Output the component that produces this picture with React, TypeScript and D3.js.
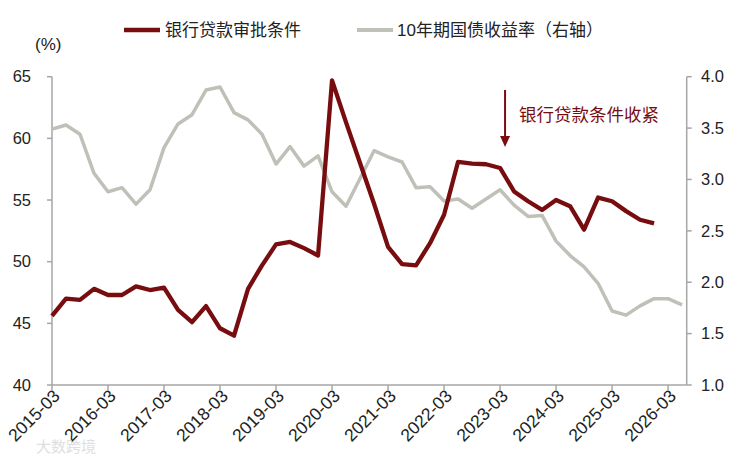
import React from "react";
import * as d3 from "d3";

const quarterLabels: string[] = [
  "2015-03","2016-03","2017-03","2018-03","2019-03","2020-03",
  "2021-03","2022-03","2023-03","2024-03","2025-03","2026-03",
];

// Quarterly values starting 2015-03
const lendingConditions: number[] = [
  45.6, 47.0, 46.9, 47.8, 47.3, 47.3, 48.0, 47.7, 47.9, 46.1,
  45.1, 46.4, 44.6, 44.0, 47.8, 49.7, 51.4, 51.6, 51.1, 50.5,
  64.7, 61.3, 58.0, 54.7, 51.2, 49.8, 49.7, 51.5, 53.8, 58.1,
  57.95, 57.9, 57.6, 55.7, 54.9, 54.2, 55.0, 54.5, 52.6, 55.2,
  54.9, 54.1, 53.4, 53.1,
];

const bondYield10y: number[] = [
  3.49, 3.53, 3.44, 3.06, 2.88, 2.92, 2.76, 2.90, 3.31, 3.54,
  3.63, 3.87, 3.90, 3.65, 3.58, 3.44, 3.15, 3.32, 3.13, 3.23,
  2.88, 2.74, 3.01, 3.28, 3.22, 3.17, 2.92, 2.93, 2.79, 2.81,
  2.72, 2.81, 2.90, 2.75, 2.64, 2.65, 2.40, 2.26, 2.15, 1.99,
  1.72, 1.68, 1.77, 1.84, 1.84, 1.78,
];

const leftTicks: number[] = [40, 45, 50, 55, 60, 65];
const rightTicks: number[] = [1.0, 1.5, 2.0, 2.5, 3.0, 3.5, 4.0];

const legendNames: string[] = ["银行贷款审批条件", "10年期国债收益率（右轴）"];
const annotationText = "银行贷款条件收紧";
const annotationIndex = 32; // 2023-03 quarter

const RED = "#780d10";
const GRAY = "#bfc0b7";
const AXIS = "#a6a6a6";
const FONT = "'Liberation Sans', Arial, 'Noto Sans CJK SC', sans-serif";

export default function App() {
  const W = 748, H = 462;
  const left = 52, right = 686.7, top = 76.7, bottom = 385;

  const x = d3.scaleLinear().domain([0, 45.33]).range([left, right]);
  const yL = d3.scaleLinear().domain([40, 65]).range([bottom, top]);
  const yR = d3.scaleLinear().domain([1, 4]).range([bottom, top]);

  const redLine = d3.line<number>().x((_, i) => x(i)).y((d) => yL(d));
  const grayLine = d3.line<number>().x((_, i) => x(i)).y((d) => yR(d));

  const ax = x(annotationIndex) + 5;

  return (
    <svg width={W} height={H} style={{ position: "absolute", left: 0, top: 0, background: "#fff" }} fontFamily={FONT}>
      {/* legend */}
      <line x1={124} x2={160} y1={30} y2={30} stroke={RED} strokeWidth={4.5} />
      <text x={165} y={30} dy="0.35em" fontSize={17} fill="#222">{legendNames[0]}</text>
      <line x1={357} x2={393} y1={30} y2={30} stroke={GRAY} strokeWidth={4} />
      <text x={397} y={30} dy="0.35em" fontSize={17} fill="#222">{legendNames[1]}</text>

      <text x={35} y={44} dy="0.35em" fontSize={17} fill="#222">(%)</text>

      {/* axes */}
      <line x1={left} x2={left} y1={top} y2={bottom} stroke={AXIS} strokeWidth={1.5} />
      <line x1={right} x2={right} y1={top} y2={bottom} stroke={AXIS} strokeWidth={1.5} />
      <line x1={left} x2={right} y1={bottom} y2={bottom} stroke={AXIS} strokeWidth={1.5} />

      {leftTicks.map((t) => (
        <g key={"l" + t}>
          <line x1={left - 5} x2={left} y1={yL(t)} y2={yL(t)} stroke={AXIS} strokeWidth={1.5} />
          <text x={31} y={yL(t)} dy="0.35em" textAnchor="end" fontSize={16.5} fill="#222">{t}</text>
        </g>
      ))}
      {rightTicks.map((t) => (
        <g key={"r" + t}>
          <line x1={right} x2={right + 5} y1={yR(t)} y2={yR(t)} stroke={AXIS} strokeWidth={1.5} />
          <text x={701} y={yR(t)} dy="0.35em" fontSize={16.5} fill="#222">{t.toFixed(1)}</text>
        </g>
      ))}
      {quarterLabels.map((lab, k) => {
        const tx = x(k * 4);
        return (
          <g key={lab}>
            <line x1={tx} x2={tx} y1={bottom} y2={bottom + 5} stroke={AXIS} strokeWidth={1.5} />
            <text transform={`translate(${tx + 9},${bottom + 12}) rotate(-45)`} textAnchor="end" fontSize={17.5} fill="#222">{lab}</text>
          </g>
        );
      })}

      {/* series */}
      <path d={grayLine(bondYield10y) || ""} fill="none" stroke={GRAY} strokeWidth={3.5} strokeLinejoin="round" />
      <path d={redLine(lendingConditions) || ""} fill="none" stroke={RED} strokeWidth={4.3} strokeLinejoin="round" />

      {/* annotation */}
      <line x1={ax} x2={ax} y1={90} y2={138} stroke={RED} strokeWidth={2} />
      <path d={`M${ax - 5},136 L${ax + 5},136 L${ax},147 Z`} fill={RED} />
      <text x={519} y={115} dy="0.35em" fontSize={17.5} fill={RED}>{annotationText}</text>

      {/* watermark */}
      <text x={36} y={452} fontSize={15} fill="#d8d8d8" opacity={0.8}>大数跨境</text>
    </svg>
  );
}
